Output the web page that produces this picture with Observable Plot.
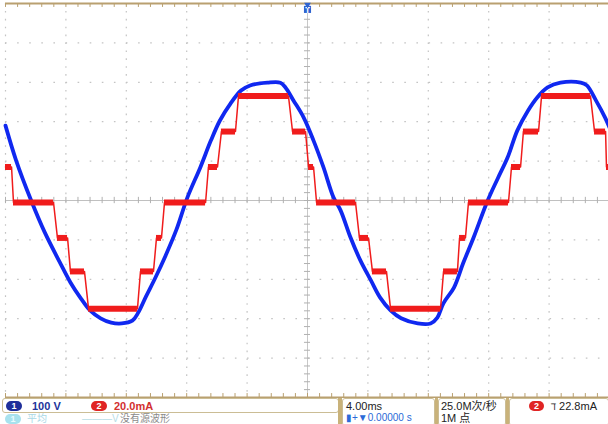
<!DOCTYPE html>
<html><head><meta charset="utf-8">
<script src="https://cdn.jsdelivr.net/npm/d3@7"></script>
<script src="https://cdn.jsdelivr.net/npm/@observablehq/plot@0.6"></script>
<style>
body{margin:0;background:#fff;font-family:"Liberation Sans","Noto Sans CJK SC",sans-serif}
#wrap{position:relative;width:608px;height:424px;overflow:hidden;background:#fff}
#chart svg{display:block}
.box{position:absolute;background:#fff;border:1px solid #cbbd95;border-radius:3px;box-sizing:border-box}
.sep{position:absolute;background:#c9b27a}
.t{position:absolute;font-size:11px;font-weight:bold;white-space:nowrap;line-height:12px}
.badge{position:absolute;height:10px;border-radius:5px;color:#fff;font-size:9px;font-weight:bold;text-align:center;line-height:10px}
</style></head><body>
<div id="wrap"><div id="chart"></div><div id="status"></div></div>
<script>
// Channel settings
const msPerDiv = 4, voltsPerDiv = 100, mAPerDiv = 20;
const triggerTime = 0;
// Channel 1 (blue): voltage, time in ms, volts
const blueTime = [-20.0,-19.3,-18.3,-17.4,-16.4,-15.7,-15.0,-14.4,-13.7,-13.0,-12.3,-11.6,-11.2,-10.7,-10.1,-9.4,-8.7,-7.95,-7.1,-6.4,-5.8,-5.1,-4.4,-3.8,-2.65,-1.8,-1.46,-0.93,-0.26,0.4,1.06,1.72,2.19,2.85,3.5,4.2,4.8,5.5,6.2,7.3,8.15,8.6,9.0,9.7,10.3,11.0,11.9,12.6,13.25,13.9,14.6,15.2,15.9,16.75,18.1,18.5,19.1,19.7,20.0];
const blueVolt = [190,102,0,-81,-157,-208,-249,-279,-299,-310,-312,-305,-284,-244,-198,-140,-76,8,84,152,203,246,279,292,299,299,287,254,211,152,84,8,-25,-94,-152,-203,-246,-279,-299,-312,-312,-297,-261,-221,-160,-94,-3,56,109,178,228,261,287,299,299,292,254,211,185];
// Channel 2 (red): current staircase, each step start/end in ms, level in mA
const redStart = [-20.0,-19.47,-16.56,-15.70,-14.50,-11.06,-10.0,-9.47,-6.56,-5.70,-4.57,-0.99,0.07,0.60,3.44,4.30,5.50,9.01,10.07,10.66,13.51,14.30,15.50,19.01,19.80];
const redEnd   = [-19.60,-16.82,-15.89,-14.77,-11.26,-10.20,-9.67,-6.75,-5.96,-4.77,-1.26,-0.13,0.40,3.18,4.04,5.23,8.81,9.93,10.46,13.31,14.11,15.30,18.74,19.74,20.0];
const redLevel = [17,-1,-19,-36,-55,-36,-19,-1,17,35,53,35,17,-1,-19,-36,-55,-36,-19,-1,17,35,53,35,17];

const blue = blueTime.map((t,i)=>({t, y: blueVolt[i]/voltsPerDiv}));
const steps = redStart.map((s,i)=>({s, e: redEnd[i], y: redLevel[i]/mAPerDiv}));
const redPath = steps.flatMap(d=>[{t:d.s,y:d.y},{t:d.e,y:d.y}]);

const xGrid = d3.range(-5,6).filter(k=>k!==0).map(k=>k*msPerDiv);
const yGrid = d3.range(-4,5).filter(k=>k!==0);
const xMinor = d3.range(-25,26).map(k=>k*msPerDiv/5);
const yMinor = d3.range(-25,26).map(k=>k/5);
const tan = "#b9a070", grid = "#c4c4c4";

const chart = Plot.plot({
  width: 608, height: 398,
  marginLeft: 5, marginRight: -1, marginTop: 3, marginBottom: 1,
  x: {domain: [-5*msPerDiv, 5*msPerDiv], axis: null},
  y: {domain: [-5, 5], axis: null},
  style: {background: "#fff", overflow: "hidden"},
  marks: [
    Plot.ruleX(xGrid, {stroke: grid, strokeWidth: 1.2, strokeDasharray: "1.6,6.3"}),
    Plot.ruleY(yGrid, {stroke: grid, strokeWidth: 1.2, strokeDasharray: "1.6,10.5"}),
    Plot.ruleY([0], {stroke: "#c0c0c0", strokeWidth: 1}),
    Plot.ruleX([triggerTime], {stroke: "#c8c8c8", strokeWidth: 1}),
    Plot.ruleX(xMinor, {x: d=>d, y1: -0.08, y2: 0.08, stroke: "#b0b0b0"}),
    Plot.ruleY(yMinor, {y: d=>d, x1: -0.2, x2: 0.2, stroke: "#b0b0b0"}),
    Plot.ruleY([5], {stroke: tan, strokeWidth: 2}),
    Plot.ruleX(xMinor, {x: d=>d, y1: 5, y2: 4.9, stroke: tan}),
    Plot.ruleY([-5], {stroke: tan, strokeWidth: 2}),
    Plot.ruleX(xMinor, {x: d=>d, y1: -5, y2: -4.9, stroke: tan}),
    Plot.line(blue, {x: "t", y: "y", stroke: "#1028f0", strokeWidth: 3.8, curve: "catmull-rom"}),
    Plot.line(redPath, {x: "t", y: "y", stroke: "#f01c1c", strokeWidth: 1.5}),
    Plot.ruleY(steps, {x1: "s", x2: "e", y: "y", stroke: "#f01c1c", strokeWidth: 6}),
    Plot.dot([triggerTime], {x: d=>d, y: 4.85, symbol: "square", r: 4, fill: "#2f64d0"}),
    Plot.text([triggerTime], {x: d=>d, y: 4.83, text: ()=>"T", fill: "#fff", fontSize: 8, fontWeight: "bold"}),
    Plot.dot([triggerTime], {x: d=>d, y: 4.97, symbol: "triangle", r: 2.5, fill: "#2f64d0", rotate: 180})
  ]
});
document.getElementById("chart").appendChild(chart);

const st = document.getElementById("status");
const add = (html)=>st.insertAdjacentHTML("beforeend", html);
add(`<div class="box" style="left:2px;top:398px;width:337px;height:15px"></div>`);
add(`<div class="badge" style="left:6px;top:401px;width:16px;background:#1f2f9a">1</div>`);
add(`<div class="t" style="left:32px;top:400px;color:#22339a">100 V</div>`);
add(`<div class="badge" style="left:91px;top:401px;width:16px;background:#e02424">2</div>`);
add(`<div class="t" style="left:114px;top:400px;color:#d23030">20.0mA</div>`);
add(`<div class="badge" style="left:5px;top:414px;width:16px;background:#a8e2ee;color:#e8fbff">1</div>`);
add(`<div class="t" style="left:27px;top:413px;color:#a9d8e6;font-weight:normal;font-size:10px">平均</div>`);
add(`<div class="t" style="left:82px;top:413px;color:#b7dde6;font-weight:normal;font-size:10px">———V</div>`);
add(`<div class="t" style="left:120px;top:413px;color:#8a8a8a;font-weight:normal;font-size:10px">没有源波形</div>`);
add(`<div class="sep" style="left:338px;top:398px;width:4px;height:26px"></div>`);
add(`<div class="box" style="left:342px;top:398px;width:93px;height:28px"></div>`);
add(`<div class="t" style="left:346px;top:400px;color:#222;font-weight:normal">4.00ms</div>`);
add(`<div class="t" style="left:346px;top:412px;color:#2a6ad8;font-weight:normal;font-size:10px">▮+▼0.00000 s</div>`);
add(`<div class="sep" style="left:435px;top:398px;width:3px;height:26px"></div>`);
add(`<div class="box" style="left:438px;top:398px;width:68px;height:28px"></div>`);
add(`<div class="t" style="left:441px;top:400px;color:#222;font-weight:normal">25.0M次/秒</div>`);
add(`<div class="t" style="left:441px;top:412px;color:#222;font-weight:normal">1M 点</div>`);
add(`<div class="sep" style="left:506px;top:398px;width:3px;height:26px"></div>`);
add(`<div class="box" style="left:509px;top:398px;width:100px;height:28px"></div>`);
add(`<div class="badge" style="left:529px;top:401px;width:15px;background:#e02424">2</div>`);
add(`<div class="t" style="left:551px;top:400px;color:#222;font-weight:normal">ℸ 22.8mA</div>`);
</script>
</body></html>
